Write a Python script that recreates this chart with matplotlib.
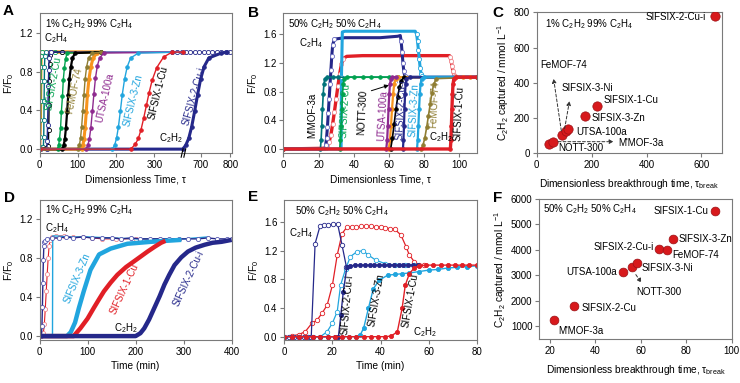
import matplotlib
matplotlib.use('Agg')
import matplotlib.pyplot as plt
import numpy as np
from matplotlib.ticker import FormatStrFormatter

plt.rcParams['font.family'] = ['Liberation Sans', 'DejaVu Sans']
plt.rcParams['mathtext.default'] = 'regular'

TEAL = '#00737a'
GREEN = '#00a24e'
OLIVE = '#8f7d32'
ORANGE = '#f7941d'
PURPLE = '#8e2a8f'
LBLUE = '#21a5de'
RED = '#e11f26'
NAVY = '#25288a'
PINK = '#f08a8f'
DOT = '#d7191c'

# ---------------- panel A : 1% C2H2 / 99% C2H4, dimensionless time ----------------
a_2cu_x = [0, 47, 50, 52, 55, 57, 60, 62, 65, 68, 72, 160]
a_2cu_y = [0, 0, 0.04, 0.10, 0.22, 0.38, 0.55, 0.71, 0.84, 0.93, 0.99, 1.0]
a_nott_x = [0, 60, 63, 66, 69, 72, 75, 78, 82, 86, 93, 160]
a_nott_y = [0, 0, 0.04, 0.10, 0.22, 0.38, 0.56, 0.72, 0.85, 0.94, 0.99, 1.0]
a_fe_x = [0, 100, 104, 107, 110, 113, 116, 119, 123, 128, 138, 160]
a_fe_y = [0, 0, 0.04, 0.11, 0.23, 0.39, 0.56, 0.72, 0.85, 0.94, 0.99, 1.0]
a_3ni_x = [0, 110, 113, 116, 119, 122, 125, 129, 134, 140, 150, 160]
a_3ni_y = [0, 0, 0.04, 0.10, 0.22, 0.38, 0.56, 0.72, 0.85, 0.94, 0.99, 1.0]
a_utsa_x = [0, 122, 126, 130, 134, 138, 142, 146, 151, 157, 168, 400]
a_utsa_y = [0, 0, 0.04, 0.10, 0.22, 0.39, 0.57, 0.73, 0.86, 0.94, 0.99, 1.0]
a_3zn_x = [0, 190, 196, 201, 206, 211, 216, 222, 229, 238, 258, 400]
a_3zn_y = [0, 0, 0.04, 0.11, 0.23, 0.39, 0.56, 0.72, 0.85, 0.94, 0.99, 1.0]
a_1cu_x = [0, 238, 250, 258, 265, 272, 279, 286, 294, 306, 324, 346, 400]
a_1cu_y = [0, 0, 0.05, 0.11, 0.2, 0.32, 0.45, 0.58, 0.71, 0.84, 0.95, 1.0, 1.0]
a_2cui_x = [0, 640, 650, 660, 670, 680, 690, 700, 712, 728, 770, 790]
a_2cui_y = [0, 0, 0.04, 0.11, 0.23, 0.39, 0.56, 0.72, 0.85, 0.94, 0.99, 1.0]

a_e_green_x = [0, 1, 2, 2.5, 3, 3.5, 4, 5, 7, 40]
a_e_green_y = [0, 0.02, 0.12, 0.3, 0.5, 0.7, 0.85, 0.96, 1.0, 1.0]
a_e_teal_x = [0, 10, 11, 11.5, 12, 12.5, 13, 14, 16, 60]
a_e_teal_y = [0, 0.02, 0.12, 0.3, 0.5, 0.7, 0.85, 0.96, 1.0, 1.0]
a_e_black_x = [0, 23, 24, 25, 26, 27, 28, 30, 60]
a_e_black_y = [0, 0.03, 0.2, 0.45, 0.7, 0.88, 0.97, 1.0, 1.0]
a_e_orange_x = [0, 2, 3, 4, 6, 160]
a_e_orange_y = [0, 0.3, 0.8, 1.0, 1.0, 1.0]
a_e_navy_x = [0, 19, 20, 21, 22, 23, 24, 25, 27, 30, 345, 360, 372, 650, 665, 680, 695, 710, 725, 740, 755, 770, 785, 800]
a_e_navy_y = [0, 0, 0.08, 0.25, 0.45, 0.65, 0.82, 0.94, 1.0, 1.0, 1.0, 1.0, 1.0, 1.0, 1.0, 1.0, 1.0, 1.0, 1.0, 1.0, 1.0, 1.0, 1.0, 1.0]

# ---------------- panel B : 50% C2H2 / 50% C2H4, dimensionless time ----------------
b_mmof_x = [0, 21, 21.4, 21.8, 22.2, 22.6, 23, 23.5, 25, 28, 31, 110]
b_mmof_y = [0, 0, 0.12, 0.32, 0.56, 0.76, 0.9, 0.98, 1.0, 1.0, 1.0, 1.0]
b_2cu_x = [0, 32, 32.4, 32.8, 33.2, 33.6, 34, 34.5, 36, 40, 45, 50, 55, 60, 65, 110]
b_2cu_y = [0, 0, 0.12, 0.32, 0.56, 0.76, 0.9, 0.98, 1.0, 1.0, 1.0, 1.0, 1.0, 1.0, 1.0, 1.0]
b_utsa_x = [0, 58.5, 59, 59.4, 59.8, 60.2, 60.6, 61.2, 62, 64]
b_utsa_y = [0, 0, 0.12, 0.32, 0.56, 0.76, 0.9, 0.98, 1.0, 1.0]
b_3ni_x = [0, 60, 60.6, 61.2, 61.8, 62.4, 63, 63.8, 65, 98, 102, 106, 110]
b_3ni_y = [0, 0, 0.12, 0.32, 0.56, 0.76, 0.9, 0.98, 1.0, 1.0, 1.0, 1.0, 1.0]
b_nott_x = [0, 61, 62, 63, 64, 65, 66, 67, 68.5]
b_nott_y = [0, 0, 0.15, 0.35, 0.55, 0.72, 0.86, 0.95, 1.0]
b_2cui_x = [0, 68, 68.3, 68.6, 68.9, 69.2, 69.5, 70, 72, 110]
b_2cui_y = [0, 0, 0.12, 0.32, 0.56, 0.76, 0.9, 0.98, 1.0, 1.0]
b_3zn_x = [0, 76, 76.4, 76.8, 77.2, 77.6, 78, 78.6, 80, 110]
b_3zn_y = [0, 0, 0.12, 0.32, 0.56, 0.76, 0.9, 0.98, 1.0, 1.0]
b_fe_x = [0, 78.5, 79.5, 80.5, 81.5, 82.5, 83.5, 84.5, 85.5, 87, 110]
b_fe_y = [0, 0, 0.06, 0.16, 0.3, 0.46, 0.62, 0.78, 0.9, 0.98, 1.0]
b_1cu_x = [0, 95, 95.3, 95.6, 95.9, 96.2, 96.5, 97, 98, 110]
b_1cu_y = [0, 0, 0.12, 0.32, 0.56, 0.76, 0.9, 0.98, 1.0, 1.0]

b_e_navy_x = [0, 23.5, 24, 24.5, 25, 25.5, 26, 26.5, 27, 27.5, 28, 29, 35, 45, 55, 65, 66.5, 67, 67.5, 68, 68.5, 69, 70, 110]
b_e_navy_y = [0, 0, 0.05, 0.15, 0.3, 0.5, 0.7, 0.9, 1.1, 1.3, 1.45, 1.53, 1.55, 1.55, 1.55, 1.57, 1.58, 1.5, 1.35, 1.2, 1.08, 1.02, 1.0, 1.0]
b_e_lblue_x = [0, 32.8, 33, 33.5, 35, 45, 55, 65, 75, 75.8, 76.3, 76.8, 77.3, 77.8, 78.3, 79, 80, 110]
b_e_lblue_y = [0, 0, 1.0, 1.63, 1.64, 1.64, 1.64, 1.64, 1.64, 1.6, 1.5, 1.38, 1.25, 1.13, 1.05, 1.01, 1.0, 1.0]
b_e_red_x = [0, 24, 25, 26, 27, 28, 29, 30, 31, 32, 33, 34, 36, 45, 60, 75, 90, 94.5, 95, 95.5, 96, 96.5, 97, 97.5, 98, 110]
b_e_red_y = [0, 0.01, 0.04, 0.1, 0.2, 0.35, 0.52, 0.7, 0.88, 1.05, 1.18, 1.26, 1.29, 1.3, 1.3, 1.3, 1.3, 1.3, 1.28, 1.22, 1.15, 1.08, 1.03, 1.01, 1.0, 1.0]

# ---------------- panel C : C2H2 captured vs breakthrough time (1%) ----------------
c_names = ["M'MOF-3a", 'NOTT-300', 'FeMOF-74', 'SIFSIX-3-Ni', 'UTSA-100a',
           'SIFSIX-3-Zn', 'SIFSIX-1-Cu', 'SIFSIX-2-Cu-i']
c_tau = [46, 58, 91, 106, 115, 177, 220, 648]
c_cap = [53, 66, 104, 127, 136, 212, 268, 781]

# ---------------- panel D : 1% C2H2 / 99% C2H4, time (min) ----------------
d_e_navy_x = [0, 4, 5, 6, 7, 8, 9, 10, 12, 16, 25, 40, 55, 70, 90, 110, 130, 150, 170, 190,
              210, 230, 250, 270, 290, 310, 330, 350, 370, 390, 400]
d_e_navy_y = [0, 0, 0.1, 0.3, 0.55, 0.78, 0.93, 0.97, 0.98, 1.0, 1.01, 1.01, 1.02, 1.01, 1.02, 1.01,
              1.01, 1.01, 1.0, 1.01, 1.0, 1.0, 1.0, 1.0, 1.0, 1.0, 1.0, 1.01, 1.0, 1.0, 1.0]
d_e_red_x = [0, 8, 10, 12, 14, 16, 18, 20, 22, 26, 35, 50, 70, 90, 110, 130, 160, 200, 250]
d_e_red_y = [0, 0.03, 0.12, 0.28, 0.46, 0.64, 0.8, 0.93, 0.99, 1.02, 1.03, 1.03, 1.02, 1.02, 1.01, 1.0, 1.0, 1.0, 1.0]
d_e_lblue_x = [0, 27, 27.5, 35, 60, 100, 150, 200, 250, 300, 350]
d_e_lblue_y = [0, 0, 1.03, 1.03, 1.02, 1.02, 1.01, 1.0, 1.0, 1.0, 1.02]
d_3zn_x = [0, 57, 65, 74, 82, 92, 106, 124, 148, 183, 232, 295]
d_3zn_y = [0, 0, 0.04, 0.14, 0.29, 0.46, 0.68, 0.84, 0.9, 0.95, 0.97, 0.99]
d_1cu_x = [0, 71, 85, 100, 113, 124, 134, 148, 162, 180, 197, 211, 225, 240, 253, 262]
d_1cu_y = [0, 0, 0.08, 0.18, 0.29, 0.38, 0.46, 0.55, 0.63, 0.71, 0.77, 0.82, 0.87, 0.92, 0.96, 0.98]
d_2cui_x = [0, 200, 210, 218, 228, 239, 250, 260, 270, 281, 295, 309, 325, 344, 360, 379, 400]
d_2cui_y = [0, 0, 0.03, 0.08, 0.17, 0.29, 0.41, 0.53, 0.63, 0.73, 0.81, 0.87, 0.91, 0.94, 0.96, 0.97, 0.99]

# ---------------- panel E : 50% C2H2 / 50% C2H4, time (min) ----------------
e_e_navy_x = [0, 2, 4, 6, 8, 10, 11.2, 12.8, 14.8, 16.5, 18.3, 20.2, 22.2, 24, 25.8]
e_e_navy_y = [0, 0, 0, 0, 0, 0, 0, 1.30, 1.54, 1.56, 1.56, 1.57, 1.57, 1.28, 0.98]
e_e_red_x = [0, 3, 6, 8.7, 11.5, 13.6, 15.7, 17.8, 20, 22, 24, 26, 28, 30, 32, 34, 36, 38, 40, 42, 44,
             46, 48.5, 50.6, 52, 54, 56, 58]
e_e_red_y = [0, 0.01, 0.03, 0.07, 0.19, 0.23, 0.33, 0.44, 0.72, 1.14, 1.44, 1.53, 1.53, 1.53, 1.54, 1.54,
             1.54, 1.53, 1.53, 1.52, 1.51, 1.5, 1.42, 1.26, 1.14, 1.05, 1.0, 1.0]
e_e_lblue_x = [0, 3, 6, 9, 12, 15, 17.8, 20, 22, 23.4, 25.5, 27.5, 30.3, 32.7, 35, 38, 42, 46, 50, 54]
e_e_lblue_y = [0, 0, 0, 0, 0, 0, 0.07, 0.19, 0.35, 0.72, 0.95, 1.12, 1.19, 1.2, 1.14, 1.07, 1.02, 1.0, 1.0, 1.0]
e_2cui_x = [0, 3, 6, 9, 12, 15, 18, 21, 22.5, 23.5, 24.5, 26, 27.5, 29.5, 31.5, 33.5, 35.5, 37.5, 39.5,
            41.5, 43.5, 45.5, 47.5, 49.5, 51.5, 53.5, 55.5]
e_2cui_y = [0, 0, 0, 0, 0, 0, 0, 0, 0, 0.3, 0.62, 0.97, 0.99, 1.0, 1.0, 1.0, 1.0, 1.0, 1.0,
            1.0, 1.0, 1.0, 1.0, 1.0, 1.0, 1.0, 1.0]
e_3zn_x = [0, 3, 6, 9, 12, 15, 18, 21, 24, 27, 30, 31.5, 33, 35, 37, 39.5, 43, 46, 49, 52, 56, 60,
           64, 68, 72, 76, 80]
e_3zn_y = [0, 0, 0, 0, 0, 0, 0, 0, 0, 0, 0, 0.02, 0.12, 0.4, 0.67, 0.79, 0.86, 0.87, 0.88, 0.89, 0.91,
           0.93, 0.94, 0.96, 0.97, 0.98, 0.99]
e_1cu_x = [0, 3, 6, 9, 12, 15, 18, 21, 24, 27, 30, 33, 36, 39, 42, 44.5, 47, 49, 50.3, 52, 54, 56,
           59, 62, 65, 68, 71, 74, 77, 80]
e_1cu_y = [0, 0, 0, 0, 0, 0, 0, 0, 0, 0, 0, 0, 0, 0, 0, 0.01, 0.07, 0.4, 0.72, 0.88, 0.96, 0.99,
           1.0, 1.0, 1.0, 1.0, 1.0, 1.0, 1.0, 1.0]

# ---------------- panel F : C2H2 captured vs breakthrough time (50%) ----------------
f_names = ["M'MOF-3a", 'SIFSIX-2-Cu', 'UTSA-100a', 'NOTT-300', 'SIFSIX-3-Ni',
           'SIFSIX-2-Cu-i', 'FeMOF-74', 'SIFSIX-3-Zn', 'SIFSIX-1-Cu']
f_tau = [21.9, 30.7, 52, 56, 58.5, 67.8, 71.6, 74.1, 92.5]
f_cap = [1248, 1798, 3146, 3343, 3474, 4037, 3997, 4442, 5542]


def curve(ax, x, y, c, filled=True, lw=1.0, ms=2.6, mec=None, every=None, z=2):
    ax.plot(x, y, color=c, lw=lw, marker='o' if ms else None, ms=ms,
            mfc=c if filled else 'white', mec=mec if mec else c, mew=0.6,
            markevery=every, zorder=z, solid_capstyle='butt')


def style(ax):
    for s in ax.spines.values():
        s.set_color('#7a7a7a')
        s.set_linewidth(0.8)
    ax.tick_params(colors='#7a7a7a', labelcolor='black', labelsize=7, length=3, width=0.8, pad=2)


def lab(ax, x, y, s, c='black', rot=0, **kw):
    ax.text(x, y, s, color=c, rotation=rot, ha='center', va='center', fontsize=7,
            rotation_mode='anchor', **kw)


fig = plt.figure(figsize=(7.4, 3.83), dpi=100)

# ---------------- A ----------------
axA = fig.add_axes([0.0534, 0.6005, 0.2597, 0.3648])


def fwd(t):
    t = np.asarray(t, dtype=float)
    return np.where(t <= 374, t, np.where(t < 640, 374, 374 + (t - 640) * 0.774))


def inv(u):
    u = np.asarray(u, dtype=float)
    return np.where(u <= 374, u, 640 + (u - 374) / 0.774)


axA.set_xscale('function', functions=(fwd, inv))
curve(axA, a_e_orange_x, a_e_orange_y, ORANGE, lw=2.5, ms=0)
curve(axA, a_e_green_x, a_e_green_y, GREEN, filled=False, ms=3)
curve(axA, a_e_teal_x, a_e_teal_y, TEAL, filled=False, ms=3)
curve(axA, a_e_black_x, a_e_black_y, 'black', filled=False, ms=3)
curve(axA, a_e_navy_x, a_e_navy_y, NAVY, filled=False, ms=3)
curve(axA, a_2cui_x, a_2cui_y, NAVY, lw=2.2)
curve(axA, a_3ni_x, a_3ni_y, ORANGE, lw=2.2)
curve(axA, a_2cu_x, a_2cu_y, GREEN)
curve(axA, a_nott_x, a_nott_y, 'black', lw=1.6)
curve(axA, a_fe_x, a_fe_y, OLIVE)
curve(axA, a_utsa_x, a_utsa_y, PURPLE)
curve(axA, a_3zn_x, a_3zn_y, LBLUE)
curve(axA, a_1cu_x, a_1cu_y, RED)
axA.set_xlim(0, 805)
axA.set_ylim(-0.04, 1.4)
axA.set_xticks([0, 100, 200, 300, 700, 800])
axA.set_yticks([0, 0.4, 0.8, 1.2])
axA.yaxis.set_major_formatter(FormatStrFormatter('%.1f'))
for dx in (0.0, 0.014):
    axA.plot([0.737 + dx, 0.747 + dx], [-0.03, 0.03], transform=axA.transAxes,
             color='black', lw=0.8, clip_on=False, zorder=5)
style(axA)
axA.set_xlabel('Dimensionless Time, τ', fontsize=7.3, labelpad=3)
axA.set_ylabel('F/F$_0$', fontsize=7.5, labelpad=2)
axA.text(0.03, 0.92, '1% C$_2$H$_2$ 99% C$_2$H$_4$', transform=axA.transAxes, fontsize=7, va='center')
lab(axA, 37, 0.68, 'SIFSIX-2-Cu', GREEN, 80)
lab(axA, 90, 0.6, 'FeMOF-74', OLIVE, 78)
lab(axA, 172, 0.53, 'UTSA-100a', PURPLE, 77)
lab(axA, 244, 0.5, 'SIFSIX-3-Zn', LBLUE, 76)
lab(axA, 310, 0.58, 'SIFSIX-1-Cu', 'black', 76)
lab(axA, 679, 0.55, 'SIFSIX-2-Cu-i', NAVY, 74)
lab(axA, 344, 0.11, 'C$_2$H$_2$')
lab(axA, 44, 1.14, 'C$_2$H$_4$')

# ---------------- B ----------------
axB = fig.add_axes([0.3831, 0.6005, 0.2611, 0.3648])
red_marks = [1, 2, 3, 4, 5, 6, 7, 8, 9, 10, 11, 18, 19, 20, 21, 22, 23]
navy_marks = [2, 3, 4, 5, 6, 7, 8, 9, 10, 11, 17, 18, 19, 20, 21]
curve(axB, b_e_red_x, b_e_red_y, RED, filled=False, lw=2.4, ms=3, mec=PINK, every=red_marks)
curve(axB, b_e_navy_x, b_e_navy_y, NAVY, filled=False, lw=2.2, ms=3, mec='#6a6cc0', every=navy_marks)
curve(axB, b_e_lblue_x, b_e_lblue_y, LBLUE, filled=False, lw=2.2, ms=3, every=[2, 9, 10, 11, 12, 13, 14, 15])
curve(axB, b_mmof_x, b_mmof_y, TEAL, lw=1.2)
curve(axB, b_2cu_x, b_2cu_y, GREEN, lw=1.2)
curve(axB, b_3ni_x, b_3ni_y, ORANGE, lw=1.6)
curve(axB, b_utsa_x, b_utsa_y, PURPLE, lw=1.6)
curve(axB, b_nott_x, b_nott_y, 'black', lw=1.2)
curve(axB, b_2cui_x, b_2cui_y, NAVY, lw=1.6)
curve(axB, b_3zn_x, b_3zn_y, LBLUE, lw=1.6)
curve(axB, b_fe_x, b_fe_y, OLIVE, lw=1.2)
curve(axB, b_1cu_x, b_1cu_y, RED, lw=2.4)
axB.set_xlim(0, 110)
axB.set_ylim(-0.056, 1.89)
axB.set_xticks([0, 20, 40, 60, 80, 100])
axB.set_yticks([0, 0.4, 0.8, 1.2, 1.6])
axB.yaxis.set_major_formatter(FormatStrFormatter('%.1f'))
style(axB)
axB.set_xlabel('Dimensionless Time, τ', fontsize=7.3, labelpad=3)
axB.set_ylabel('F/F$_0$', fontsize=7.5, labelpad=2)
axB.text(0.025, 0.92, '50% C$_2$H$_2$ 50% C$_2$H$_4$', transform=axB.transAxes, fontsize=7, va='center')
lab(axB, 16.4, 0.47, "M'MOF-3a", 'black', 90)
lab(axB, 35.3, 0.53, 'SIFSIX-2-Cu', GREEN, 87)
lab(axB, 45, 0.51, 'NOTT-300', 'black', 87)
lab(axB, 56.4, 0.47, 'UTSA-100a', PURPLE, 87)
lab(axB, 66.8, 0.54, 'SIFSIX-2-Cu-i', NAVY, 87)
lab(axB, 74.4, 0.54, 'SIFSIX-3-Zn', LBLUE, 87)
lab(axB, 85.8, 0.62, 'FeMOF-74', OLIVE, 87)
lab(axB, 100, 0.5, 'SIFSIX-1-Cu', 'black', 87)
lab(axB, 89.5, 0.17, 'C$_2$H$_2$')
lab(axB, 15.8, 1.48, 'C$_2$H$_4$')
axB.annotate('', xy=(61.5, 0.9), xytext=(48.5, 0.8),
             arrowprops=dict(arrowstyle='-|>', color='black', lw=0.7, mutation_scale=6))

# ---------------- C ----------------
axC = fig.add_axes([0.7253, 0.5997, 0.2504, 0.3681])
axC.scatter(c_tau, c_cap, s=45, color=DOT, edgecolor='#9b1015', linewidth=0.5, zorder=3)
axC.set_xlim(0, 675)
axC.set_ylim(0, 800)
axC.set_xticks([0, 200, 400, 600])
axC.set_yticks([0, 200, 400, 600, 800])
style(axC)
axC.set_xlabel('Dimensionless breakthrough time, τ$_{break}$', fontsize=7.3, labelpad=5)
axC.set_ylabel('C$_2$H$_2$ captured / mmol L$^{-1}$', fontsize=7.3, labelpad=2)
axC.text(0.045, 0.917, '1% C$_2$H$_2$ 99% C$_2$H$_4$', transform=axC.transAxes, fontsize=7, va='center')
ckw = dict(fontsize=7, va='center')
axC.text(617, 772, 'SIFSIX-2-Cu-i', ha='right', **ckw)
axC.text(12, 501, 'FeMOF-74', **ckw)
axC.text(91, 369, 'SIFSIX-3-Ni', **ckw)
axC.text(242, 303, 'SIFSIX-1-Cu', **ckw)
axC.text(200, 199, 'SIFSIX-3-Zn', **ckw)
axC.text(145, 123, 'UTSA-100a', **ckw)
axC.text(79, 32, 'NOTT-300', **ckw)
axC.text(297, 61, "M'MOF-3a", **ckw)
dash = dict(arrowstyle='-|>', color='#333333', lw=0.7, ls=(0, (3, 2)), mutation_scale=6)
axC.annotate('', xy=(60, 439), xytext=(91, 113), arrowprops=dash)
axC.annotate('', xy=(121, 312), xytext=(100, 125), arrowprops=dash)
axC.annotate('', xy=(290, 66), xytext=(68, 66), arrowprops=dash)

# ---------------- D ----------------
axD = fig.add_axes([0.0534, 0.1123, 0.2597, 0.3655])
curve(axD, d_e_red_x, d_e_red_y, RED, filled=False, lw=0.8, ms=3, mec=PINK)
curve(axD, d_e_lblue_x, d_e_lblue_y, LBLUE, lw=1.0, ms=0)
curve(axD, d_e_navy_x, d_e_navy_y, NAVY, filled=False, lw=1.0, ms=3, mec='#5558b0')
curve(axD, d_3zn_x, d_3zn_y, LBLUE, lw=3.2, ms=0)
curve(axD, d_1cu_x, d_1cu_y, RED, lw=3.2, ms=0)
curve(axD, d_2cui_x, d_2cui_y, NAVY, lw=3.2, ms=0)
axD.set_xlim(0, 400)
axD.set_ylim(-0.04, 1.4)
axD.set_xticks([0, 100, 200, 300, 400])
axD.set_yticks([0, 0.4, 0.8, 1.2])
axD.yaxis.set_major_formatter(FormatStrFormatter('%.1f'))
style(axD)
axD.set_xlabel('Time (min)', fontsize=7.3, labelpad=3)
axD.set_ylabel('F/F$_0$', fontsize=7.5, labelpad=2)
axD.text(0.03, 0.93, '1% C$_2$H$_2$ 99% C$_2$H$_4$', transform=axD.transAxes, fontsize=7, va='center')
lab(axD, 78, 0.6, 'SIFSIX-3-Zn', LBLUE, 67)
lab(axD, 176, 0.49, 'SIFSIX-1-Cu', RED, 65)
lab(axD, 311, 0.59, 'SIFSIX-2-Cu-i', NAVY, 65)
lab(axD, 180, 0.08, 'C$_2$H$_2$')
lab(axD, 37, 1.11, 'C$_2$H$_4$')

# ---------------- E ----------------
axE = fig.add_axes([0.3842, 0.1123, 0.26, 0.3655])
curve(axE, e_e_red_x, e_e_red_y, RED, filled=False, lw=0.9, ms=3.2)
curve(axE, e_e_lblue_x, e_e_lblue_y, LBLUE, filled=False, lw=0.9, ms=3.2)
curve(axE, e_e_navy_x, e_e_navy_y, NAVY, filled=False, lw=0.9, ms=3.2)
curve(axE, e_3zn_x, e_3zn_y, LBLUE, lw=1.0, ms=3)
curve(axE, e_2cui_x, e_2cui_y, NAVY, lw=1.0, ms=3)
curve(axE, e_1cu_x, e_1cu_y, RED, lw=1.0, ms=3)
axE.set_xlim(0, 80)
axE.set_ylim(-0.046, 1.91)
axE.set_xticks([0, 20, 40, 60, 80])
axE.set_yticks([0, 0.4, 0.8, 1.2, 1.6])
axE.yaxis.set_major_formatter(FormatStrFormatter('%.1f'))
style(axE)
axE.set_xlabel('Time (min)', fontsize=7.3, labelpad=3)
axE.set_ylabel('F/F$_0$', fontsize=7.5, labelpad=2)
axE.text(0.055, 0.92, '50% C$_2$H$_2$ 50% C$_2$H$_4$', transform=axE.transAxes, fontsize=7, va='center')
lab(axE, 26, 0.44, 'SIFSIX-2-Cu-i', 'black', 85)
lab(axE, 38.3, 0.51, 'SIFSIX-3-Zn', 'black', 80)
lab(axE, 52.3, 0.51, 'SIFSIX-1-Cu', 'black', 80)
lab(axE, 58.5, 0.07, 'C$_2$H$_2$')
lab(axE, 7, 1.45, 'C$_2$H$_4$')

# ---------------- F ----------------
axF = fig.add_axes([0.7288, 0.1149, 0.26, 0.3655])
axF.scatter(f_tau, f_cap, s=40, color=DOT, edgecolor='#9b1015', linewidth=0.5, zorder=3)
axF.set_xlim(15.3, 100)
axF.set_ylim(500, 6000)
axF.set_xticks([20, 40, 60, 80, 100])
axF.set_yticks([1000, 2000, 3000, 4000, 5000, 6000])
style(axF)
axF.set_xlabel('Dimensionless breakthrough time, τ$_{break}$', fontsize=7.3, labelpad=5)
axF.set_ylabel('C$_2$H$_2$ captured / mmol L$^{-1}$', fontsize=7.3, labelpad=2)
axF.text(0.02, 0.93, '50% C$_2$H$_2$ 50% C$_2$H$_4$', transform=axF.transAxes, fontsize=7, va='center')
axF.text(89.9, 5540, 'SIFSIX-1-Cu', ha='right', **ckw)
axF.text(76.6, 4430, 'SIFSIX-3-Zn', **ckw)
axF.text(65.6, 4130, 'SIFSIX-2-Cu-i', ha='right', **ckw)
axF.text(73.7, 3800, 'FeMOF-74', **ckw)
axF.text(60.4, 3300, 'SIFSIX-3-Ni', **ckw)
axF.text(49.4, 3150, 'UTSA-100a', ha='right', **ckw)
axF.text(58, 2330, 'NOTT-300', **ckw)
axF.text(34, 1700, 'SIFSIX-2-Cu', **ckw)
axF.text(23.7, 830, "M'MOF-3a", **ckw)
axF.annotate('', xy=(60.9, 2623), xytext=(57.1, 3120), arrowprops=dash)

for x, y, s in [(0.004, 0.99, 'A'), (0.335, 0.985, 'B'), (0.666, 0.985, 'C'),
                (0.006, 0.50, 'D'), (0.335, 0.505, 'E'), (0.666, 0.50, 'F')]:
    fig.text(x, y, s, fontsize=11, fontweight='bold', va='top')

fig.savefig('out.png', dpi=100)
